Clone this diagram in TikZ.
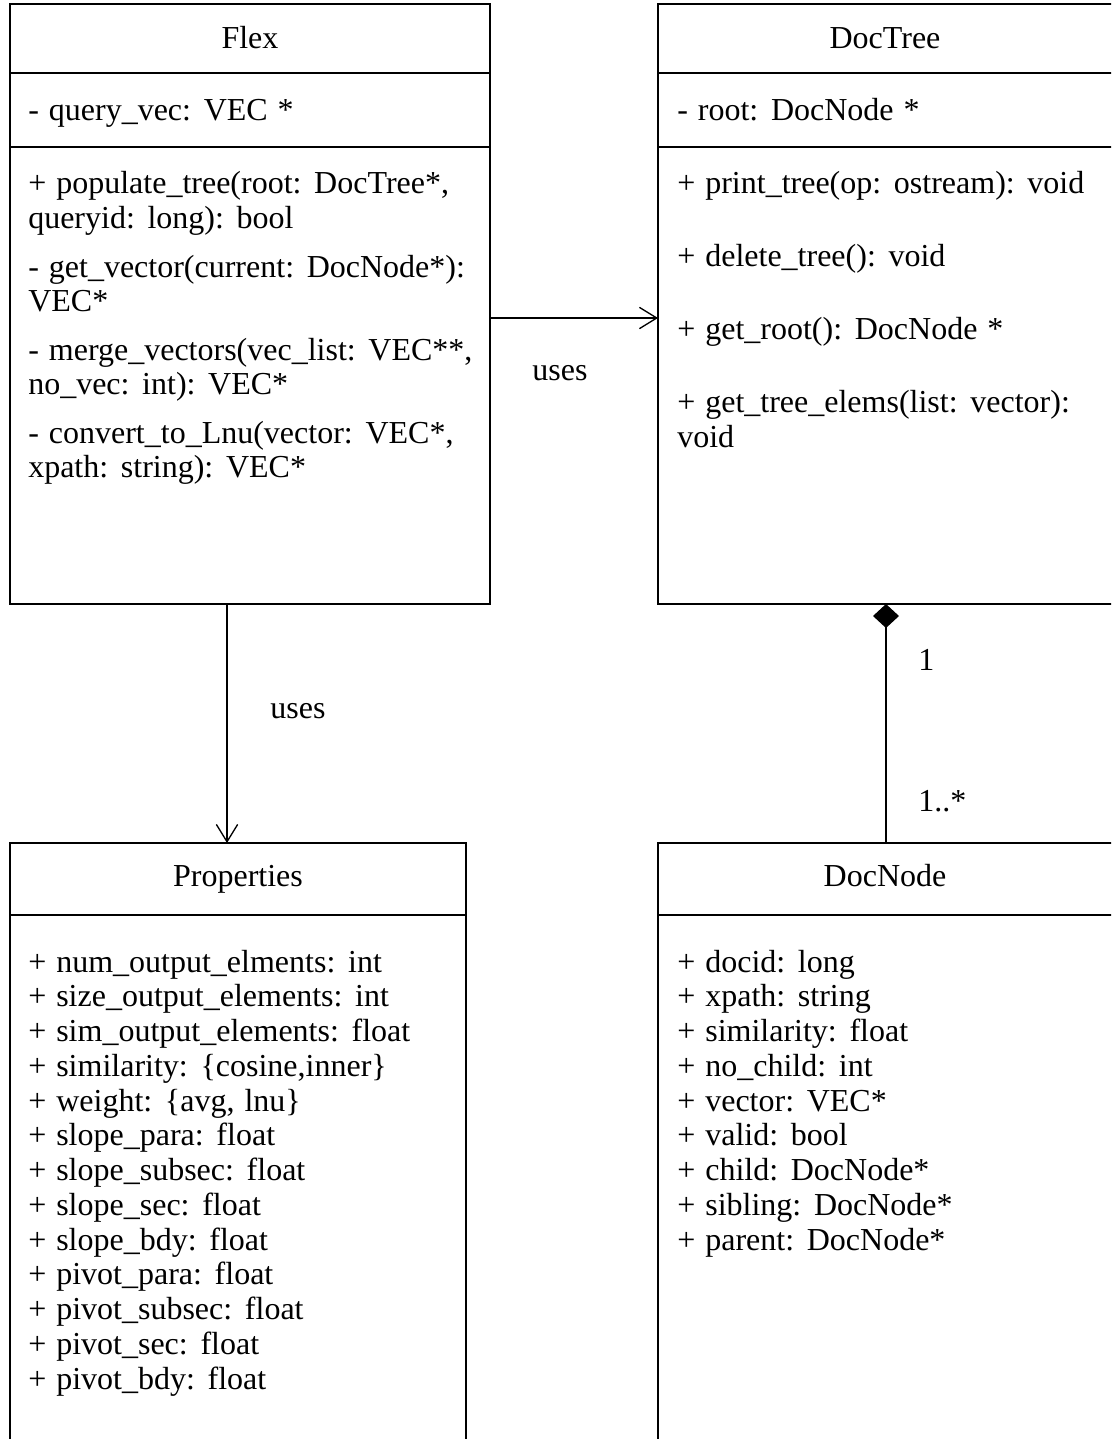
\documentclass[tikz,border=0pt]{standalone}
\usepackage{fontspec}
\setmainfont{Liberation Serif}[WordSpace=1.25]
\usetikzlibrary{arrows.meta}
\begin{document}
\begin{tikzpicture}[x=0.75pt,y=-0.75pt,
  cls/.style={draw, line width=1.2pt, rectangle, inner sep=0pt, outer sep=0pt, anchor=north west},
  sepline/.style={line width=1.2pt},
  txt/.style={anchor=base west, inner sep=0pt, font=\fontsize{24}{28}\selectfont},
  ttl/.style={anchor=base, inner sep=0pt, font=\fontsize{24}{28}\selectfont},
  lbl/.style={anchor=base, inner sep=0pt, font=\fontsize{24}{28}\selectfont},
  conn/.style={line width=1pt},
  openarr/.style={-{Straight Barb[length=13pt,width=16pt,line width=1pt]}},
  comp/.style={{Diamond[length=18pt,width=19.5pt]}-}
]
\useasboundingbox (0,0) rectangle (1111,1439);
\clip (0,0) rectangle (1111,1439);

% class boxes
\node[cls, minimum width=360pt, minimum height=450pt] (flex) at (10,4) {};
\node[cls, minimum width=342pt, minimum height=450pt] (doctree) at (658,4) {};
\node[cls, minimum width=342pt, minimum height=465pt] (props) at (10,843) {};
\node[cls, minimum width=342pt, minimum height=465pt] (docnode) at (658,843) {};

% compartments
\draw[sepline] (flex.west |- {(0,73)}) -- (flex.east |- {(0,73)});
\draw[sepline] (flex.west |- {(0,147)}) -- (flex.east |- {(0,147)});
\draw[sepline] (doctree.west |- {(0,73)}) -- (doctree.east |- {(0,73)});
\draw[sepline] (doctree.west |- {(0,147)}) -- (doctree.east |- {(0,147)});
\draw[sepline] (props.west |- {(0,915)}) -- (props.east |- {(0,915)});
\draw[sepline] (docnode.west |- {(0,915)}) -- (docnode.east |- {(0,915)});

% Flex
\node[ttl] (flexT) at (250,48) {Flex};
\node[txt] (f1) at (28,120) {- query\_vec: VEC *};
\node[txt] (f2) at (28,193) {+ populate\_tree(root: DocTree*,};
\node[txt] (f3) at (28,228) {queryid: long): bool};
\node[txt] (f4) at (28,277) {- get\_vector(current: DocNode*):};
\node[txt] (f5) at (28,311) {VEC*};
\node[txt] (f6) at (28,360) {- merge\_vectors(vec\_list: VEC**,};
\node[txt] (f7) at (28,394) {no\_vec: int): VEC*};
\node[txt] (f8) at (28,443) {- convert\_to\_Lnu(vector: VEC*,};
\node[txt] (f9) at (28,477) {xpath: string): VEC*};

% DocTree
\node[ttl] (dtT) at (885,48) {DocTree};
\node[txt] (d1) at (677,120) {- root: DocNode *};
\node[txt] (d2) at (677,193) {+ print\_tree(op: ostream): void};
\node[txt] (d3) at (677,266) {+ delete\_tree(): void};
\node[txt] (d4) at (677,339) {+ get\_root(): DocNode *};
\node[txt] (d5) at (677,412) {+ get\_tree\_elems(list: vector):};
\node[txt] (d6) at (677,447) {void};

% Properties
\node[ttl] (pT) at (238,886) {Properties};
\foreach \t [count=\i from 0] in {%
  + num\_output\_elments: int,
  + size\_output\_elements: int,
  + sim\_output\_elements: float,
  + similarity: \{cosine{,}inner\},
  + weight: \{avg{,} lnu\},
  + slope\_para: float,
  + slope\_subsec: float,
  + slope\_sec: float,
  + slope\_bdy: float,
  + pivot\_para: float,
  + pivot\_subsec: float,
  + pivot\_sec: float,
  + pivot\_bdy: float}
  \node[txt] (p\i) at (28,{972+34.75*\i}) {\t};

% DocNode
\node[ttl] (dnT) at (885,886) {DocNode};
\foreach \t [count=\i from 0] in {%
  + docid: long,
  + xpath: string,
  + similarity: float,
  + no\_child: int,
  + vector: VEC*,
  + valid: bool,
  + child: DocNode*,
  + sibling: DocNode*,
  + parent: DocNode*}
  \node[txt] (n\i) at (677,{972+34.75*\i}) {\t};

% connectors
\draw[conn, openarr] (flex.east |- {(0,318)}) -- (doctree.west |- {(0,318)});
\node[lbl] (uses1) at (560,380) {uses};
\draw[conn, openarr] (flex.south -| {(227,0)}) -- (props.north -| {(227,0)});
\node[lbl] (uses2) at (298,718) {uses};
\draw[conn, comp] (doctree.south -| {(886,0)}) -- (docnode.north -| {(886,0)});
\node[txt] (m1) at (918,670) {1};
\node[txt] (m2) at (918,811) {1..*};
\end{tikzpicture}
\end{document}
